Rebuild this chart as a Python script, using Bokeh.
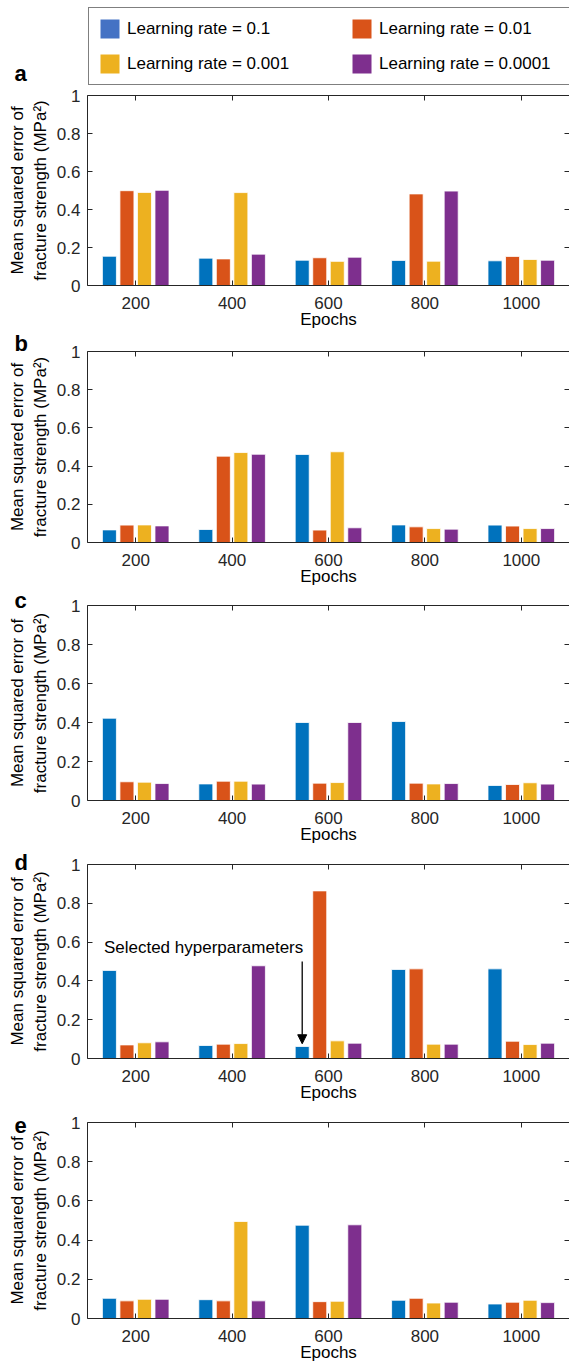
from bokeh.plotting import figure
from bokeh.models import (FactorRange, Range1d, FixedTicker, CategoricalAxis, LinearAxis,
                          Legend, LegendItem, Label, Arrow, NormalHead, ColumnDataSource, Title)
from bokeh.transform import dodge
from bokeh.layouts import column, row
from bokeh.embed import file_html
from bokeh.resources import INLINE

# ---------------- data ----------------
epochs = ["200", "400", "600", "800", "1000"]
series_labels = ["Learning rate = 0.1", "Learning rate = 0.01",
                 "Learning rate = 0.001", "Learning rate = 0.0001"]
bar_colors = ["#0072BD", "#D95319", "#EDB120", "#7E2F8E"]
legend_colors = ["#4472C4", "#D95319", "#EDB120", "#7E2F8E"]
y_ticks = [0, 0.2, 0.4, 0.6, 0.8, 1]
y_tick_labels = ["0", "0.2", "0.4", "0.6", "0.8", "1"]
panel_letters = ["a", "b", "c", "d", "e"]

# rows: learning rate 0.1, 0.01, 0.001, 0.0001 ; columns: epochs
mse_a = [[0.154, 0.144, 0.133, 0.132, 0.130],
         [0.499, 0.140, 0.146, 0.482, 0.153],
         [0.490, 0.489, 0.127, 0.128, 0.137],
         [0.501, 0.165, 0.149, 0.497, 0.133]]
mse_b = [[0.066, 0.068, 0.461, 0.092, 0.091],
         [0.091, 0.452, 0.065, 0.082, 0.086],
         [0.092, 0.471, 0.475, 0.073, 0.073],
         [0.087, 0.462, 0.077, 0.070, 0.073]]
mse_c = [[0.422, 0.085, 0.400, 0.405, 0.077],
         [0.096, 0.099, 0.089, 0.089, 0.082],
         [0.094, 0.099, 0.092, 0.085, 0.091],
         [0.087, 0.084, 0.400, 0.087, 0.084]]
mse_d = [[0.454, 0.067, 0.062, 0.459, 0.462],
         [0.070, 0.074, 0.864, 0.462, 0.089],
         [0.081, 0.077, 0.091, 0.074, 0.072],
         [0.086, 0.478, 0.079, 0.074, 0.079]]
mse_e = [[0.103, 0.096, 0.476, 0.093, 0.074],
         [0.090, 0.090, 0.086, 0.103, 0.083],
         [0.098, 0.495, 0.088, 0.079, 0.093],
         [0.098, 0.090, 0.478, 0.083, 0.081]]
panel_data = [mse_a, mse_b, mse_c, mse_d, mse_e]

annotation_text = "Selected hyperparameters"
selected_panel = 3
selected_epoch = "600"
selected_series = 0

# ---------------- styling / layout ----------------
FONT = "Liberation Sans"
TXT = "#262626"
W = 569
LEFT = 87
nser = len(series_labels)
slot = min(0.8, nser / (nser + 1.5)) / nser
bar_w = 0.8 * slot
offsets = [(i - (nser - 1) / 2) * slot for i in range(nser)]

# (figure height, top border, bottom border, title standoff for the panel letter)
geom = [(245, 9, 44, None), (257, 20, 46, -8), (258, 17, 46, -15),
        (258, 18, 46, -21), (260, 18, 45, -20)]

TOP_H = 86

# letter "a" in its own small figure next to the legend
af = figure(width=LEFT, height=TOP_H, x_range=(0, 1), y_range=(0, 1),
            toolbar_location=None, output_backend="svg",
            min_border_left=0, min_border_right=0, min_border_top=0, min_border_bottom=0,
            x_axis_type=None, y_axis_type=None)
af.outline_line_color = None
af.grid.visible = False
af.add_layout(Label(x=14, y=13, x_units="screen", y_units="screen", text=panel_letters[0],
                    text_font=FONT, text_font_size="22px", text_font_style="bold",
                    text_color="black", text_baseline="middle", text_align="left"))

# legend figure
lf = figure(width=W - LEFT, height=TOP_H, x_range=(0, 1), y_range=(0, 1),
            toolbar_location=None, output_backend="svg",
            min_border_left=0, min_border_right=0, min_border_top=0, min_border_bottom=0,
            x_axis_type=None, y_axis_type=None)
lf.outline_line_color = None
lf.grid.visible = False
dummy = ColumnDataSource(data=dict(x=[0.5], top=[0]))
items = []
for lab, col in zip(series_labels, legend_colors):
    r = lf.vbar(x="x", top="top", width=0, source=dummy, fill_color=col,
                line_color="white", line_width=1)
    items.append(LegendItem(label=lab, renderers=[r]))
leg = Legend(items=items, location=(1, 1), orientation="horizontal", ncols=2,
             glyph_width=25, glyph_height=25, label_standoff=5, label_width=212,
             spacing=10, padding=8, margin=0,
             label_text_font=FONT, label_text_font_size="17px", label_text_color="black",
             border_line_color="black", border_line_width=1.2,
             background_fill_color="white", background_fill_alpha=1)
lf.add_layout(leg, "center")

figs = [row(af, lf, spacing=0)]

for k, data in enumerate(panel_data):
    h, top, bottom, tstand = geom[k]
    p = figure(width=W, height=h, x_range=FactorRange(*epochs), y_range=Range1d(0, 1),
               toolbar_location=None, output_backend="svg",
               min_border_left=LEFT, min_border_right=0, min_border_top=top,
               min_border_bottom=bottom)
    p.outline_line_color = None
    p.grid.visible = False
    src = ColumnDataSource(data=dict(epoch=epochs, **{f"s{i}": data[i] for i in range(nser)}))
    for i in range(nser):
        p.vbar(x=dodge("epoch", offsets[i], range=p.x_range), top=f"s{i}", width=bar_w,
               source=src, fill_color=bar_colors[i], line_color="white", line_width=0.8)

    xa = p.xaxis[0]
    xa.axis_label = "Epochs"
    ya = p.yaxis[0]
    ya.axis_label = "Mean squared error of\nfracture strength (MPa\u00b2)"
    ya.ticker = FixedTicker(ticks=y_ticks)
    ya.major_label_overrides = {t: l for t, l in zip(y_ticks, y_tick_labels)}
    for ax in (xa, ya):
        ax.major_tick_in = 5
        ax.major_tick_out = 0
        ax.minor_tick_line_color = None
        ax.axis_line_color = TXT
        ax.major_tick_line_color = TXT
        ax.major_label_text_font = FONT
        ax.major_label_text_font_size = "17px"
        ax.major_label_text_color = TXT
        ax.major_label_standoff = 7
        ax.axis_label_text_font = FONT
        ax.axis_label_text_font_size = "17px"
        ax.axis_label_text_font_style = "normal"
        ax.axis_label_text_color = "black"
    xa.major_label_standoff = 11
    xa.axis_label_standoff = -2
    ya.axis_label_standoff = 4
    top_ax = CategoricalAxis(major_label_text_font_size="1px", major_label_text_color=None,
                             major_label_standoff=0, major_tick_in=5, major_tick_out=0,
                             axis_line_color=TXT, major_tick_line_color=TXT,
                             minor_tick_line_color=None)
    p.add_layout(top_ax, "above")
    right_ax = LinearAxis(ticker=FixedTicker(ticks=y_ticks),
                          major_label_text_font_size="1px", major_label_text_color=None,
                          major_label_standoff=0, major_tick_in=5, major_tick_out=0,
                          axis_line_color=None, major_tick_line_color=TXT,
                          minor_tick_line_color=None)
    p.add_layout(right_ax, "right")

    if tstand is not None:
        p.title = Title(text=panel_letters[k], align="left", vertical_align="bottom",
                        offset=14 - LEFT, standoff=tstand, text_font=FONT,
                        text_font_size="22px", text_font_style="bold", text_color="black")

    if k == selected_panel:
        ax_x = epochs.index(selected_epoch) + 0.5 + offsets[selected_series]
        ax_top = data[selected_series][epochs.index(selected_epoch)]
        p.add_layout(Arrow(end=NormalHead(size=9, fill_color="black", line_color="black"),
                           x_start=ax_x, y_start=0.5, x_end=ax_x, y_end=ax_top + 0.014,
                           line_color="black", line_width=1.3))
        p.add_layout(Label(x=0.17, y=0.574, text=annotation_text, text_font=FONT,
                           text_font_size="17px", text_color="black",
                           text_baseline="middle", text_align="left"))
    figs.append(p)

layout = column(*figs, spacing=0)
open("out.html", "w").write(file_html(layout, INLINE))
